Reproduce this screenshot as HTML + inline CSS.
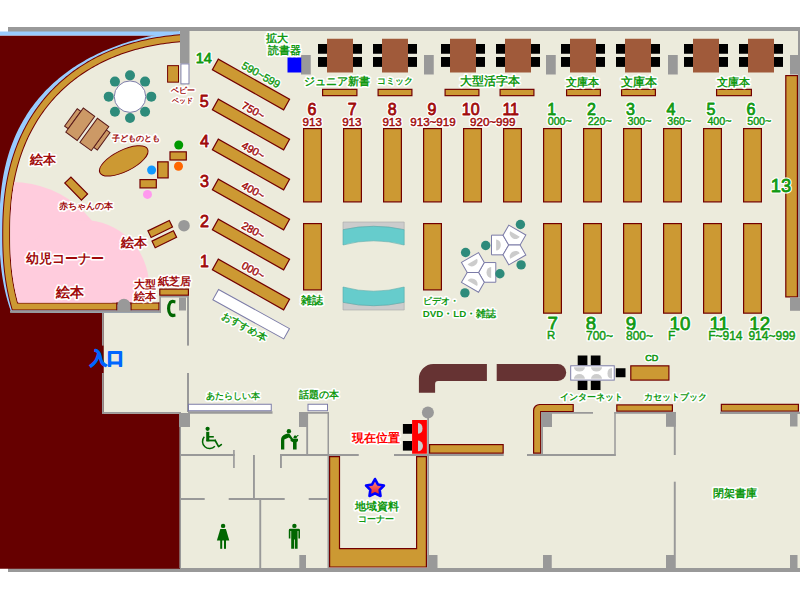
<!DOCTYPE html>
<html><head><meta charset="utf-8"><title>Floor map</title>
<style>html,body{margin:0;padding:0;background:#fff;width:800px;height:600px;overflow:hidden}svg{display:block}</style>
</head><body>
<svg width="800" height="600" viewBox="0 0 800 600" shape-rendering="geometricPrecision">
<rect x="0.00" y="0.00" width="800.00" height="600.00" fill="#FFFFFF"/>
<rect x="8.00" y="27.00" width="792.00" height="5.00" fill="#999999"/>
<rect x="8.00" y="568.00" width="792.00" height="4.00" fill="#999999"/>
<rect x="179.00" y="31.00" width="621.00" height="537.00" fill="#ECEBDC"/>
<rect x="0.00" y="35.50" width="180.00" height="533.25" fill="#660000"/>
<rect x="0.00" y="31.50" width="180.00" height="4.00" fill="#99CCFF"/>
<rect x="798.00" y="31.00" width="2.00" height="266.50" fill="#999999"/>
<rect x="103.75" y="296.00" width="85.25" height="117.75" fill="#ECEBDC"/>
<rect x="102.00" y="312.00" width="1.75" height="33.60" fill="#999999"/>
<rect x="102.00" y="373.00" width="1.75" height="40.75" fill="#999999"/>
<rect x="102.00" y="412.00" width="79.00" height="1.75" fill="#999999"/>
<rect x="187.00" y="296.00" width="2.00" height="49.60" fill="#999999"/>
<rect x="187.00" y="373.00" width="2.00" height="39.00" fill="#999999"/>
<rect x="159.50" y="295.80" width="29.50" height="1.70" fill="#999999"/>
<rect x="179.00" y="297.50" width="7.00" height="13.00" fill="#999999"/>
<rect x="179.00" y="413.00" width="11.00" height="14.00" fill="#999999"/>
<defs>
<clipPath id="kc"><path d="M0,31.5 L180,31.5 L180,296 L159.5,296 L159.5,313 L0,313 Z"/></clipPath>
<clipPath id="ki"><path d="M199.51,41.34 L196.11,41.43 L192.83,41.55 L189.65,41.69 L186.54,41.86 L183.50,42.06 L180.52,42.28 L177.59,42.53 L174.71,42.81 L171.87,43.11 L169.07,43.44 L166.31,43.79 L163.58,44.17 L160.88,44.57 L158.21,45.01 L155.57,45.46 L152.96,45.95 L150.38,46.45 L147.82,46.99 L145.29,47.55 L142.79,48.13 L140.30,48.75 L137.85,49.38 L135.41,50.05 L133.00,50.73 L130.62,51.45 L128.25,52.19 L125.91,52.95 L123.59,53.74 L121.29,54.55 L119.02,55.39 L116.76,56.26 L114.53,57.15 L112.32,58.06 L110.13,59.00 L107.97,59.96 L105.82,60.95 L103.70,61.97 L101.60,63.00 L99.52,64.07 L97.46,65.15 L95.42,66.26 L93.40,67.40 L91.41,68.55 L89.44,69.74 L87.49,70.94 L85.56,72.17 L83.66,73.42 L81.77,74.70 L79.91,76.00 L78.07,77.33 L76.25,78.67 L74.46,80.04 L72.69,81.44 L70.94,82.85 L69.21,84.29 L67.51,85.75 L65.83,87.24 L64.17,88.74 L62.53,90.27 L60.92,91.82 L59.33,93.40 L57.77,94.99 L56.23,96.61 L54.71,98.25 L53.22,99.91 L51.75,101.60 L50.30,103.30 L48.88,105.03 L47.48,106.78 L46.11,108.55 L44.76,110.34 L43.43,112.15 L42.13,113.98 L40.86,115.84 L39.61,117.71 L38.38,119.61 L37.18,121.53 L36.01,123.47 L34.85,125.43 L33.73,127.41 L32.63,129.41 L31.55,131.43 L30.51,133.47 L29.48,135.53 L28.48,137.62 L27.51,139.72 L26.57,141.85 L25.65,143.99 L24.75,146.16 L23.88,148.35 L23.04,150.56 L22.23,152.79 L21.44,155.04 L20.67,157.31 L19.94,159.61 L19.23,161.93 L18.54,164.27 L17.89,166.63 L17.26,169.01 L16.65,171.42 L16.08,173.86 L15.53,176.31 L15.00,178.80 L14.51,181.31 L14.04,183.85 L13.59,186.41 L13.18,189.01 L12.79,191.64 L12.43,194.30 L12.10,196.99 L11.79,199.73 L11.51,202.50 L11.26,205.33 L11.04,208.20 L10.84,211.13 L10.67,214.13 L10.52,217.20 L10.41,220.38 L10.32,223.68 L10.26,227.17 L10.23,230.98 L10.22,235.96 L10.24,240.07 L10.29,243.67 L10.37,247.05 L10.47,250.28 L10.60,253.39 L10.76,256.42 L10.94,259.38 L11.16,262.28 L11.40,265.12 L11.66,267.92 L11.96,270.67 L12.28,273.38 L12.63,276.06 L13.01,278.70 L13.41,281.31 L13.84,283.89 L14.30,286.44 L14.78,288.96 L15.29,291.46 L15.83,293.93 L16.39,296.37 L16.99,298.79 L17.60,301.19 L17.96,302.50 L260,302.5 L260,38 Z"/></clipPath>
<linearGradient id="sg" x1="0" y1="0" x2="0" y2="1"><stop offset="0" stop-color="#FF9A9A"/><stop offset="0.6" stop-color="#F04848"/><stop offset="1" stop-color="#D82020"/></linearGradient>
</defs>
<g clip-path="url(#kc)">
<path d="M197.43,29.37 L193.83,29.67 L190.29,30.00 L186.81,30.35 L183.39,30.72 L180.01,31.13 L176.68,31.55 L173.40,32.01 L170.16,32.49 L166.96,32.99 L163.80,33.52 L160.67,34.08 L157.59,34.66 L154.54,35.27 L151.52,35.90 L148.54,36.56 L145.59,37.24 L142.67,37.95 L139.79,38.68 L136.93,39.44 L134.11,40.23 L131.32,41.04 L128.56,41.87 L125.83,42.73 L123.12,43.62 L120.45,44.53 L117.81,45.46 L115.19,46.42 L112.61,47.40 L110.05,48.41 L107.52,49.45 L105.02,50.51 L102.55,51.59 L100.10,52.70 L97.69,53.83 L95.30,54.98 L92.94,56.17 L90.61,57.37 L88.30,58.60 L86.03,59.85 L83.78,61.13 L81.56,62.43 L79.37,63.75 L77.20,65.10 L75.07,66.48 L72.96,67.87 L70.88,69.29 L68.83,70.73 L66.81,72.20 L64.81,73.69 L62.85,75.20 L60.91,76.74 L59.00,78.30 L57.12,79.89 L55.27,81.49 L53.45,83.12 L51.65,84.77 L49.89,86.45 L48.15,88.15 L46.44,89.87 L44.77,91.62 L43.12,93.38 L41.50,95.17 L39.91,96.99 L38.35,98.82 L36.82,100.68 L35.32,102.56 L33.84,104.47 L32.40,106.40 L30.99,108.35 L29.61,110.32 L28.26,112.31 L26.93,114.33 L25.64,116.38 L24.38,118.44 L23.15,120.53 L21.95,122.64 L20.78,124.78 L19.64,126.93 L18.53,129.12 L17.45,131.32 L16.40,133.55 L15.38,135.81 L14.40,138.09 L13.44,140.39 L12.52,142.72 L11.63,145.08 L10.76,147.46 L9.93,149.87 L9.13,152.30 L8.36,154.76 L7.63,157.26 L6.92,159.78 L6.25,162.33 L5.60,164.91 L4.99,167.52 L4.41,170.17 L3.86,172.85 L3.35,175.57 L2.86,178.33 L2.41,181.13 L1.99,183.98 L1.60,186.87 L1.24,189.81 L0.92,192.81 L0.62,195.87 L0.36,199.01 L0.13,202.22 L-0.07,205.53 L-0.24,208.94 L-0.37,212.50 L-0.47,216.25 L-0.55,220.27 L-0.58,224.79 L-0.59,231.20 L-0.57,236.17 L-0.51,240.36 L-0.42,244.22 L-0.30,247.85 L-0.15,251.33 L0.04,254.68 L0.25,257.93 L0.50,261.10 L0.78,264.19 L1.09,267.22 L1.44,270.19 L1.81,273.10 L2.22,275.96 L2.66,278.78 L3.13,281.56 L3.63,284.30 L4.17,287.00 L4.73,289.66 L5.33,292.29 L5.96,294.88 L6.62,297.45 L7.31,299.98 L8.04,302.49 L8.79,304.96 L9.58,307.41 L10.39,309.83 L11.24,312.22 L11.34,312.50 L180,314 L180,31 Z" fill="#99CCFF"/>
<path d="M199.51,41.34 L196.11,41.43 L192.83,41.55 L189.65,41.69 L186.54,41.86 L183.50,42.06 L180.52,42.28 L177.59,42.53 L174.71,42.81 L171.87,43.11 L169.07,43.44 L166.31,43.79 L163.58,44.17 L160.88,44.57 L158.21,45.01 L155.57,45.46 L152.96,45.95 L150.38,46.45 L147.82,46.99 L145.29,47.55 L142.79,48.13 L140.30,48.75 L137.85,49.38 L135.41,50.05 L133.00,50.73 L130.62,51.45 L128.25,52.19 L125.91,52.95 L123.59,53.74 L121.29,54.55 L119.02,55.39 L116.76,56.26 L114.53,57.15 L112.32,58.06 L110.13,59.00 L107.97,59.96 L105.82,60.95 L103.70,61.97 L101.60,63.00 L99.52,64.07 L97.46,65.15 L95.42,66.26 L93.40,67.40 L91.41,68.55 L89.44,69.74 L87.49,70.94 L85.56,72.17 L83.66,73.42 L81.77,74.70 L79.91,76.00 L78.07,77.33 L76.25,78.67 L74.46,80.04 L72.69,81.44 L70.94,82.85 L69.21,84.29 L67.51,85.75 L65.83,87.24 L64.17,88.74 L62.53,90.27 L60.92,91.82 L59.33,93.40 L57.77,94.99 L56.23,96.61 L54.71,98.25 L53.22,99.91 L51.75,101.60 L50.30,103.30 L48.88,105.03 L47.48,106.78 L46.11,108.55 L44.76,110.34 L43.43,112.15 L42.13,113.98 L40.86,115.84 L39.61,117.71 L38.38,119.61 L37.18,121.53 L36.01,123.47 L34.85,125.43 L33.73,127.41 L32.63,129.41 L31.55,131.43 L30.51,133.47 L29.48,135.53 L28.48,137.62 L27.51,139.72 L26.57,141.85 L25.65,143.99 L24.75,146.16 L23.88,148.35 L23.04,150.56 L22.23,152.79 L21.44,155.04 L20.67,157.31 L19.94,159.61 L19.23,161.93 L18.54,164.27 L17.89,166.63 L17.26,169.01 L16.65,171.42 L16.08,173.86 L15.53,176.31 L15.00,178.80 L14.51,181.31 L14.04,183.85 L13.59,186.41 L13.18,189.01 L12.79,191.64 L12.43,194.30 L12.10,196.99 L11.79,199.73 L11.51,202.50 L11.26,205.33 L11.04,208.20 L10.84,211.13 L10.67,214.13 L10.52,217.20 L10.41,220.38 L10.32,223.68 L10.26,227.17 L10.23,230.98 L10.22,235.96 L10.24,240.07 L10.29,243.67 L10.37,247.05 L10.47,250.28 L10.60,253.39 L10.76,256.42 L10.94,259.38 L11.16,262.28 L11.40,265.12 L11.66,267.92 L11.96,270.67 L12.28,273.38 L12.63,276.06 L13.01,278.70 L13.41,281.31 L13.84,283.89 L14.30,286.44 L14.78,288.96 L15.29,291.46 L15.83,293.93 L16.39,296.37 L16.99,298.79 L17.60,301.19 L17.96,302.50 L175,302.5" fill="none" stroke="#720000" stroke-width="16" stroke-linejoin="miter"/>
<path d="M199.51,41.34 L196.11,41.43 L192.83,41.55 L189.65,41.69 L186.54,41.86 L183.50,42.06 L180.52,42.28 L177.59,42.53 L174.71,42.81 L171.87,43.11 L169.07,43.44 L166.31,43.79 L163.58,44.17 L160.88,44.57 L158.21,45.01 L155.57,45.46 L152.96,45.95 L150.38,46.45 L147.82,46.99 L145.29,47.55 L142.79,48.13 L140.30,48.75 L137.85,49.38 L135.41,50.05 L133.00,50.73 L130.62,51.45 L128.25,52.19 L125.91,52.95 L123.59,53.74 L121.29,54.55 L119.02,55.39 L116.76,56.26 L114.53,57.15 L112.32,58.06 L110.13,59.00 L107.97,59.96 L105.82,60.95 L103.70,61.97 L101.60,63.00 L99.52,64.07 L97.46,65.15 L95.42,66.26 L93.40,67.40 L91.41,68.55 L89.44,69.74 L87.49,70.94 L85.56,72.17 L83.66,73.42 L81.77,74.70 L79.91,76.00 L78.07,77.33 L76.25,78.67 L74.46,80.04 L72.69,81.44 L70.94,82.85 L69.21,84.29 L67.51,85.75 L65.83,87.24 L64.17,88.74 L62.53,90.27 L60.92,91.82 L59.33,93.40 L57.77,94.99 L56.23,96.61 L54.71,98.25 L53.22,99.91 L51.75,101.60 L50.30,103.30 L48.88,105.03 L47.48,106.78 L46.11,108.55 L44.76,110.34 L43.43,112.15 L42.13,113.98 L40.86,115.84 L39.61,117.71 L38.38,119.61 L37.18,121.53 L36.01,123.47 L34.85,125.43 L33.73,127.41 L32.63,129.41 L31.55,131.43 L30.51,133.47 L29.48,135.53 L28.48,137.62 L27.51,139.72 L26.57,141.85 L25.65,143.99 L24.75,146.16 L23.88,148.35 L23.04,150.56 L22.23,152.79 L21.44,155.04 L20.67,157.31 L19.94,159.61 L19.23,161.93 L18.54,164.27 L17.89,166.63 L17.26,169.01 L16.65,171.42 L16.08,173.86 L15.53,176.31 L15.00,178.80 L14.51,181.31 L14.04,183.85 L13.59,186.41 L13.18,189.01 L12.79,191.64 L12.43,194.30 L12.10,196.99 L11.79,199.73 L11.51,202.50 L11.26,205.33 L11.04,208.20 L10.84,211.13 L10.67,214.13 L10.52,217.20 L10.41,220.38 L10.32,223.68 L10.26,227.17 L10.23,230.98 L10.22,235.96 L10.24,240.07 L10.29,243.67 L10.37,247.05 L10.47,250.28 L10.60,253.39 L10.76,256.42 L10.94,259.38 L11.16,262.28 L11.40,265.12 L11.66,267.92 L11.96,270.67 L12.28,273.38 L12.63,276.06 L13.01,278.70 L13.41,281.31 L13.84,283.89 L14.30,286.44 L14.78,288.96 L15.29,291.46 L15.83,293.93 L16.39,296.37 L16.99,298.79 L17.60,301.19 L17.96,302.50 L175,302.5" fill="none" stroke="#CC9933" stroke-width="14" stroke-linejoin="miter"/>
<path d="M199.51,41.34 L196.11,41.43 L192.83,41.55 L189.65,41.69 L186.54,41.86 L183.50,42.06 L180.52,42.28 L177.59,42.53 L174.71,42.81 L171.87,43.11 L169.07,43.44 L166.31,43.79 L163.58,44.17 L160.88,44.57 L158.21,45.01 L155.57,45.46 L152.96,45.95 L150.38,46.45 L147.82,46.99 L145.29,47.55 L142.79,48.13 L140.30,48.75 L137.85,49.38 L135.41,50.05 L133.00,50.73 L130.62,51.45 L128.25,52.19 L125.91,52.95 L123.59,53.74 L121.29,54.55 L119.02,55.39 L116.76,56.26 L114.53,57.15 L112.32,58.06 L110.13,59.00 L107.97,59.96 L105.82,60.95 L103.70,61.97 L101.60,63.00 L99.52,64.07 L97.46,65.15 L95.42,66.26 L93.40,67.40 L91.41,68.55 L89.44,69.74 L87.49,70.94 L85.56,72.17 L83.66,73.42 L81.77,74.70 L79.91,76.00 L78.07,77.33 L76.25,78.67 L74.46,80.04 L72.69,81.44 L70.94,82.85 L69.21,84.29 L67.51,85.75 L65.83,87.24 L64.17,88.74 L62.53,90.27 L60.92,91.82 L59.33,93.40 L57.77,94.99 L56.23,96.61 L54.71,98.25 L53.22,99.91 L51.75,101.60 L50.30,103.30 L48.88,105.03 L47.48,106.78 L46.11,108.55 L44.76,110.34 L43.43,112.15 L42.13,113.98 L40.86,115.84 L39.61,117.71 L38.38,119.61 L37.18,121.53 L36.01,123.47 L34.85,125.43 L33.73,127.41 L32.63,129.41 L31.55,131.43 L30.51,133.47 L29.48,135.53 L28.48,137.62 L27.51,139.72 L26.57,141.85 L25.65,143.99 L24.75,146.16 L23.88,148.35 L23.04,150.56 L22.23,152.79 L21.44,155.04 L20.67,157.31 L19.94,159.61 L19.23,161.93 L18.54,164.27 L17.89,166.63 L17.26,169.01 L16.65,171.42 L16.08,173.86 L15.53,176.31 L15.00,178.80 L14.51,181.31 L14.04,183.85 L13.59,186.41 L13.18,189.01 L12.79,191.64 L12.43,194.30 L12.10,196.99 L11.79,199.73 L11.51,202.50 L11.26,205.33 L11.04,208.20 L10.84,211.13 L10.67,214.13 L10.52,217.20 L10.41,220.38 L10.32,223.68 L10.26,227.17 L10.23,230.98 L10.22,235.96 L10.24,240.07 L10.29,243.67 L10.37,247.05 L10.47,250.28 L10.60,253.39 L10.76,256.42 L10.94,259.38 L11.16,262.28 L11.40,265.12 L11.66,267.92 L11.96,270.67 L12.28,273.38 L12.63,276.06 L13.01,278.70 L13.41,281.31 L13.84,283.89 L14.30,286.44 L14.78,288.96 L15.29,291.46 L15.83,293.93 L16.39,296.37 L16.99,298.79 L17.60,301.19 L17.96,302.50 L175,302.5" fill="none" stroke="#720000" stroke-width="2" stroke-linejoin="miter"/>
<path d="M199.51,41.34 L196.11,41.43 L192.83,41.55 L189.65,41.69 L186.54,41.86 L183.50,42.06 L180.52,42.28 L177.59,42.53 L174.71,42.81 L171.87,43.11 L169.07,43.44 L166.31,43.79 L163.58,44.17 L160.88,44.57 L158.21,45.01 L155.57,45.46 L152.96,45.95 L150.38,46.45 L147.82,46.99 L145.29,47.55 L142.79,48.13 L140.30,48.75 L137.85,49.38 L135.41,50.05 L133.00,50.73 L130.62,51.45 L128.25,52.19 L125.91,52.95 L123.59,53.74 L121.29,54.55 L119.02,55.39 L116.76,56.26 L114.53,57.15 L112.32,58.06 L110.13,59.00 L107.97,59.96 L105.82,60.95 L103.70,61.97 L101.60,63.00 L99.52,64.07 L97.46,65.15 L95.42,66.26 L93.40,67.40 L91.41,68.55 L89.44,69.74 L87.49,70.94 L85.56,72.17 L83.66,73.42 L81.77,74.70 L79.91,76.00 L78.07,77.33 L76.25,78.67 L74.46,80.04 L72.69,81.44 L70.94,82.85 L69.21,84.29 L67.51,85.75 L65.83,87.24 L64.17,88.74 L62.53,90.27 L60.92,91.82 L59.33,93.40 L57.77,94.99 L56.23,96.61 L54.71,98.25 L53.22,99.91 L51.75,101.60 L50.30,103.30 L48.88,105.03 L47.48,106.78 L46.11,108.55 L44.76,110.34 L43.43,112.15 L42.13,113.98 L40.86,115.84 L39.61,117.71 L38.38,119.61 L37.18,121.53 L36.01,123.47 L34.85,125.43 L33.73,127.41 L32.63,129.41 L31.55,131.43 L30.51,133.47 L29.48,135.53 L28.48,137.62 L27.51,139.72 L26.57,141.85 L25.65,143.99 L24.75,146.16 L23.88,148.35 L23.04,150.56 L22.23,152.79 L21.44,155.04 L20.67,157.31 L19.94,159.61 L19.23,161.93 L18.54,164.27 L17.89,166.63 L17.26,169.01 L16.65,171.42 L16.08,173.86 L15.53,176.31 L15.00,178.80 L14.51,181.31 L14.04,183.85 L13.59,186.41 L13.18,189.01 L12.79,191.64 L12.43,194.30 L12.10,196.99 L11.79,199.73 L11.51,202.50 L11.26,205.33 L11.04,208.20 L10.84,211.13 L10.67,214.13 L10.52,217.20 L10.41,220.38 L10.32,223.68 L10.26,227.17 L10.23,230.98 L10.22,235.96 L10.24,240.07 L10.29,243.67 L10.37,247.05 L10.47,250.28 L10.60,253.39 L10.76,256.42 L10.94,259.38 L11.16,262.28 L11.40,265.12 L11.66,267.92 L11.96,270.67 L12.28,273.38 L12.63,276.06 L13.01,278.70 L13.41,281.31 L13.84,283.89 L14.30,286.44 L14.78,288.96 L15.29,291.46 L15.83,293.93 L16.39,296.37 L16.99,298.79 L17.60,301.19 L17.96,302.50 L260,302.5 L260,38 Z" fill="#ECEBDC"/>
<g clip-path="url(#ki)">
<circle cx="12" cy="284" r="102" fill="#FFCCDD"/>
<circle cx="83" cy="286" r="66" fill="#FFCCDD"/>
</g>
</g>
<rect x="116.20" y="302.50" width="15.40" height="8.00" fill="#720000"/>
<rect x="158.40" y="302.50" width="1.20" height="8.00" fill="#720000"/>
<rect x="10.00" y="310.50" width="151.00" height="2.30" fill="#999999"/>
<rect x="159.50" y="296.00" width="1.50" height="16.80" fill="#999999"/>
<path d="M117.25,311 L117.25,305.4 A6.675,6.675 0 0 1 130.6,305.4 L130.6,311 Z" fill="#999999"/>
<rect x="159.80" y="289.10" width="28.60" height="6.10" fill="#CC9933" stroke="#720000" stroke-width="1.2"/>
<rect x="180.00" y="27.00" width="9.50" height="36.40" fill="#999999"/>
<rect x="167.60" y="65.65" width="10.90" height="16.50" fill="#CC9933" stroke="#720000" stroke-width="1"/>
<rect x="180.90" y="63.90" width="8.10" height="20.00" fill="#FFFFFF" stroke="#7C7CA8" stroke-width="1"/>
<circle cx="151.30" cy="96.65" r="5.00" fill="#2E8B7B"/>
<circle cx="145.06" cy="111.71" r="5.00" fill="#2E8B7B"/>
<circle cx="130.00" cy="117.95" r="5.00" fill="#2E8B7B"/>
<circle cx="114.94" cy="111.71" r="5.00" fill="#2E8B7B"/>
<circle cx="108.70" cy="96.65" r="5.00" fill="#2E8B7B"/>
<circle cx="114.94" cy="81.59" r="5.00" fill="#2E8B7B"/>
<circle cx="130.00" cy="75.35" r="5.00" fill="#2E8B7B"/>
<circle cx="145.06" cy="81.59" r="5.00" fill="#2E8B7B"/>
<circle cx="130.00" cy="96.65" r="15.75" fill="#FFFFFF" stroke="#7C7CA8" stroke-width="1"/>
<g transform="translate(87.3,129.35) rotate(36)">
<rect x="-20.25" y="-10.75" width="4.5" height="21.5" fill="#CC9966" stroke="#5A1A1A" stroke-width="1"/>
<rect x="-15.75" y="-14.9" width="14.1" height="29.8" fill="#CC9966" stroke="#5A1A1A" stroke-width="1"/>
<rect x="15.75" y="-10.75" width="4.5" height="21.5" fill="#CC9966" stroke="#5A1A1A" stroke-width="1"/>
<rect x="1.65" y="-14.9" width="14.1" height="29.8" fill="#CC9966" stroke="#5A1A1A" stroke-width="1"/>
</g>
<ellipse cx="123.75" cy="160.9" rx="26.6" ry="10.6" fill="#CC9933" stroke="#720000" stroke-width="1" transform="rotate(-26.3 123.75 160.9)"/>
<rect x="170.00" y="151.85" width="16.30" height="8.15" fill="#CC9933" stroke="#720000" stroke-width="1.2"/>
<rect x="157.70" y="161.85" width="10.45" height="16.05" fill="#CC9933" stroke="#720000" stroke-width="1.2"/>
<rect x="140.00" y="179.60" width="16.30" height="8.30" fill="#CC9933" stroke="#720000" stroke-width="1.2"/>
<circle cx="178.75" cy="145.00" r="4.50" fill="#009900"/>
<circle cx="178.50" cy="166.25" r="4.50" fill="#FF6600"/>
<circle cx="151.60" cy="170.00" r="4.50" fill="#1199FF"/>
<circle cx="147.50" cy="194.40" r="4.50" fill="#FF99EE"/>
<rect x="-11.90" y="-4.30" width="23.80" height="8.60" fill="#CC9933" stroke="#720000" stroke-width="1.2" transform="translate(76.20,188.60) rotate(45.60)"/>
<rect x="-11.90" y="-3.65" width="23.80" height="7.30" fill="#CC9933" stroke="#720000" stroke-width="1.2" transform="translate(160.20,228.95) rotate(-26.00)"/>
<rect x="-11.90" y="-3.65" width="23.80" height="7.30" fill="#CC9933" stroke="#720000" stroke-width="1.2" transform="translate(164.30,239.20) rotate(-26.00)"/>
<circle cx="184.00" cy="225.70" r="5.80" fill="#999999"/>
<rect x="301.00" y="55.00" width="9.75" height="19.50" fill="#999999"/>
<rect x="424.00" y="55.00" width="9.75" height="19.50" fill="#999999"/>
<rect x="546.00" y="55.00" width="9.75" height="19.50" fill="#999999"/>
<rect x="668.00" y="55.00" width="9.75" height="19.50" fill="#999999"/>
<rect x="790.00" y="55.00" width="9.75" height="19.50" fill="#999999"/>
<rect x="287.50" y="57.50" width="13.75" height="15.00" fill="#0000FF"/>
<rect x="327.00" y="38.75" width="26.00" height="33.75" fill="#A05A3A"/>
<rect x="318.00" y="44.00" width="9.00" height="9.75" fill="#000000"/>
<rect x="318.00" y="57.00" width="9.00" height="9.90" fill="#000000"/>
<rect x="353.00" y="44.00" width="9.00" height="9.75" fill="#000000"/>
<rect x="353.00" y="57.00" width="9.00" height="9.90" fill="#000000"/>
<rect x="382.00" y="38.75" width="26.00" height="33.75" fill="#A05A3A"/>
<rect x="373.00" y="44.00" width="9.00" height="9.75" fill="#000000"/>
<rect x="373.00" y="57.00" width="9.00" height="9.90" fill="#000000"/>
<rect x="408.00" y="44.00" width="9.00" height="9.75" fill="#000000"/>
<rect x="408.00" y="57.00" width="9.00" height="9.90" fill="#000000"/>
<rect x="450.00" y="38.75" width="26.00" height="33.75" fill="#A05A3A"/>
<rect x="441.00" y="44.00" width="9.00" height="9.75" fill="#000000"/>
<rect x="441.00" y="57.00" width="9.00" height="9.90" fill="#000000"/>
<rect x="476.00" y="44.00" width="9.00" height="9.75" fill="#000000"/>
<rect x="476.00" y="57.00" width="9.00" height="9.90" fill="#000000"/>
<rect x="505.00" y="38.75" width="26.00" height="33.75" fill="#A05A3A"/>
<rect x="496.00" y="44.00" width="9.00" height="9.75" fill="#000000"/>
<rect x="496.00" y="57.00" width="9.00" height="9.90" fill="#000000"/>
<rect x="531.00" y="44.00" width="9.00" height="9.75" fill="#000000"/>
<rect x="531.00" y="57.00" width="9.00" height="9.90" fill="#000000"/>
<rect x="570.00" y="38.75" width="26.00" height="33.75" fill="#A05A3A"/>
<rect x="561.00" y="44.00" width="9.00" height="9.75" fill="#000000"/>
<rect x="561.00" y="57.00" width="9.00" height="9.90" fill="#000000"/>
<rect x="596.00" y="44.00" width="9.00" height="9.75" fill="#000000"/>
<rect x="596.00" y="57.00" width="9.00" height="9.90" fill="#000000"/>
<rect x="625.00" y="38.75" width="26.00" height="33.75" fill="#A05A3A"/>
<rect x="616.00" y="44.00" width="9.00" height="9.75" fill="#000000"/>
<rect x="616.00" y="57.00" width="9.00" height="9.90" fill="#000000"/>
<rect x="651.00" y="44.00" width="9.00" height="9.75" fill="#000000"/>
<rect x="651.00" y="57.00" width="9.00" height="9.90" fill="#000000"/>
<rect x="693.00" y="38.75" width="26.00" height="33.75" fill="#A05A3A"/>
<rect x="684.00" y="44.00" width="9.00" height="9.75" fill="#000000"/>
<rect x="684.00" y="57.00" width="9.00" height="9.90" fill="#000000"/>
<rect x="719.00" y="44.00" width="9.00" height="9.75" fill="#000000"/>
<rect x="719.00" y="57.00" width="9.00" height="9.90" fill="#000000"/>
<rect x="748.00" y="38.75" width="26.00" height="33.75" fill="#A05A3A"/>
<rect x="739.00" y="44.00" width="9.00" height="9.75" fill="#000000"/>
<rect x="739.00" y="57.00" width="9.00" height="9.90" fill="#000000"/>
<rect x="774.00" y="44.00" width="9.00" height="9.75" fill="#000000"/>
<rect x="774.00" y="57.00" width="9.00" height="9.90" fill="#000000"/>
<rect x="322.60" y="89.35" width="34.30" height="6.30" fill="#CC9933" stroke="#720000" stroke-width="1.2"/>
<rect x="378.10" y="89.35" width="33.80" height="6.30" fill="#CC9933" stroke="#720000" stroke-width="1.2"/>
<rect x="445.10" y="89.35" width="33.80" height="6.30" fill="#CC9933" stroke="#720000" stroke-width="1.2"/>
<rect x="500.10" y="89.35" width="33.80" height="6.30" fill="#CC9933" stroke="#720000" stroke-width="1.2"/>
<rect x="566.60" y="89.35" width="33.80" height="6.30" fill="#CC9933" stroke="#720000" stroke-width="1.2"/>
<rect x="621.60" y="89.35" width="33.80" height="6.30" fill="#CC9933" stroke="#720000" stroke-width="1.2"/>
<rect x="716.60" y="89.35" width="34.80" height="6.30" fill="#CC9933" stroke="#720000" stroke-width="1.2"/>
<rect x="303.60" y="128.60" width="17.80" height="73.30" fill="#CC9933" stroke="#720000" stroke-width="1.2"/>
<rect x="343.60" y="128.60" width="17.80" height="73.30" fill="#CC9933" stroke="#720000" stroke-width="1.2"/>
<rect x="383.60" y="128.60" width="17.80" height="73.30" fill="#CC9933" stroke="#720000" stroke-width="1.2"/>
<rect x="423.60" y="128.60" width="17.80" height="73.30" fill="#CC9933" stroke="#720000" stroke-width="1.2"/>
<rect x="463.60" y="128.60" width="17.80" height="73.30" fill="#CC9933" stroke="#720000" stroke-width="1.2"/>
<rect x="503.60" y="128.60" width="17.80" height="73.30" fill="#CC9933" stroke="#720000" stroke-width="1.2"/>
<rect x="543.60" y="128.60" width="17.80" height="73.30" fill="#CC9933" stroke="#720000" stroke-width="1.2"/>
<rect x="583.60" y="128.60" width="17.80" height="73.30" fill="#CC9933" stroke="#720000" stroke-width="1.2"/>
<rect x="623.60" y="128.60" width="17.80" height="73.30" fill="#CC9933" stroke="#720000" stroke-width="1.2"/>
<rect x="663.60" y="128.60" width="17.80" height="73.30" fill="#CC9933" stroke="#720000" stroke-width="1.2"/>
<rect x="703.60" y="128.60" width="17.80" height="73.30" fill="#CC9933" stroke="#720000" stroke-width="1.2"/>
<rect x="743.60" y="128.60" width="17.80" height="73.30" fill="#CC9933" stroke="#720000" stroke-width="1.2"/>
<rect x="303.60" y="223.60" width="17.80" height="66.30" fill="#CC9933" stroke="#720000" stroke-width="1.2"/>
<rect x="423.60" y="223.60" width="17.80" height="66.30" fill="#CC9933" stroke="#720000" stroke-width="1.2"/>
<rect x="543.60" y="223.60" width="17.80" height="89.55" fill="#CC9933" stroke="#720000" stroke-width="1.2"/>
<rect x="583.60" y="223.60" width="17.80" height="89.55" fill="#CC9933" stroke="#720000" stroke-width="1.2"/>
<rect x="623.60" y="223.60" width="17.80" height="89.55" fill="#CC9933" stroke="#720000" stroke-width="1.2"/>
<rect x="663.60" y="223.60" width="17.80" height="89.55" fill="#CC9933" stroke="#720000" stroke-width="1.2"/>
<rect x="703.60" y="223.60" width="17.80" height="89.55" fill="#CC9933" stroke="#720000" stroke-width="1.2"/>
<rect x="743.60" y="223.60" width="17.80" height="89.55" fill="#CC9933" stroke="#720000" stroke-width="1.2"/>
<rect x="785.80" y="75.60" width="11.60" height="221.30" fill="#CC9933" stroke="#720000" stroke-width="1.2"/>
<rect x="790.00" y="297.50" width="10.00" height="13.30" fill="#999999"/>
<g>
<path d="M343,222 H404.2 V229.7 Q373.6,222.9 343,229.7 Z" fill="#CCCCCC" stroke="#AAAAAA" stroke-width="0.6"/>
<path d="M343,229.7 Q373.6,222.9 404.2,229.7 L404.2,245 Q373.6,236.6 343,245 Z" fill="#66CCCC" stroke="#55AAAA" stroke-width="0.6"/>
</g>
<g transform="translate(0,532) scale(1,-1)">
<path d="M343,222 H404.2 V229.7 Q373.6,222.9 343,229.7 Z" fill="#CCCCCC" stroke="#AAAAAA" stroke-width="0.6"/>
<path d="M343,229.7 Q373.6,222.9 404.2,229.7 L404.2,245 Q373.6,236.6 343,245 Z" fill="#66CCCC" stroke="#55AAAA" stroke-width="0.6"/>
</g>
<g transform="translate(508.70,245.00) rotate(0.00)">
<path d="M0,0 L-5.7,-9.85 L-17.2,-9.85 L-17.2,9.85 L-5.7,9.85 Z" fill="#FFFFFF" stroke="#7C7CA8" stroke-width="1"/>
<path d="M-12.6,-5.5 A4.7,5.5 0 0 1 -12.6,5.5 Z" fill="#CCCCCC"/>
</g>
<g transform="translate(508.70,245.00) rotate(120.00)">
<path d="M0,0 L-5.7,-9.85 L-17.2,-9.85 L-17.2,9.85 L-5.7,9.85 Z" fill="#FFFFFF" stroke="#7C7CA8" stroke-width="1"/>
<path d="M-12.6,-5.5 A4.7,5.5 0 0 1 -12.6,5.5 Z" fill="#CCCCCC"/>
</g>
<g transform="translate(508.70,245.00) rotate(240.00)">
<path d="M0,0 L-5.7,-9.85 L-17.2,-9.85 L-17.2,9.85 L-5.7,9.85 Z" fill="#FFFFFF" stroke="#7C7CA8" stroke-width="1"/>
<path d="M-12.6,-5.5 A4.7,5.5 0 0 1 -12.6,5.5 Z" fill="#CCCCCC"/>
</g>
<g transform="translate(478.60,272.40) rotate(180.00)">
<path d="M0,0 L-5.7,-9.85 L-17.2,-9.85 L-17.2,9.85 L-5.7,9.85 Z" fill="#FFFFFF" stroke="#7C7CA8" stroke-width="1"/>
<path d="M-12.6,-5.5 A4.7,5.5 0 0 1 -12.6,5.5 Z" fill="#CCCCCC"/>
</g>
<g transform="translate(478.60,272.40) rotate(300.00)">
<path d="M0,0 L-5.7,-9.85 L-17.2,-9.85 L-17.2,9.85 L-5.7,9.85 Z" fill="#FFFFFF" stroke="#7C7CA8" stroke-width="1"/>
<path d="M-12.6,-5.5 A4.7,5.5 0 0 1 -12.6,5.5 Z" fill="#CCCCCC"/>
</g>
<g transform="translate(478.60,272.40) rotate(420.00)">
<path d="M0,0 L-5.7,-9.85 L-17.2,-9.85 L-17.2,9.85 L-5.7,9.85 Z" fill="#FFFFFF" stroke="#7C7CA8" stroke-width="1"/>
<path d="M-12.6,-5.5 A4.7,5.5 0 0 1 -12.6,5.5 Z" fill="#CCCCCC"/>
</g>
<circle cx="520.40" cy="224.50" r="4.70" fill="#2E8B7B"/>
<circle cx="485.70" cy="245.50" r="4.70" fill="#2E8B7B"/>
<circle cx="521.10" cy="264.90" r="4.70" fill="#2E8B7B"/>
<circle cx="465.60" cy="252.50" r="4.70" fill="#2E8B7B"/>
<circle cx="499.90" cy="273.80" r="4.70" fill="#2E8B7B"/>
<circle cx="464.90" cy="292.90" r="4.70" fill="#2E8B7B"/>
<rect x="-40.90" y="-6.05" width="81.80" height="12.10" fill="#CC9933" stroke="#720000" stroke-width="1.2" transform="translate(250.96,84.49) rotate(29.40)"/>
<rect x="-40.90" y="-6.05" width="81.80" height="12.10" fill="#CC9933" stroke="#720000" stroke-width="1.2" transform="translate(250.96,124.49) rotate(29.40)"/>
<rect x="-40.90" y="-6.05" width="81.80" height="12.10" fill="#CC9933" stroke="#720000" stroke-width="1.2" transform="translate(250.96,164.49) rotate(29.40)"/>
<rect x="-40.90" y="-6.05" width="81.80" height="12.10" fill="#CC9933" stroke="#720000" stroke-width="1.2" transform="translate(250.96,204.49) rotate(29.40)"/>
<rect x="-40.90" y="-6.05" width="81.80" height="12.10" fill="#CC9933" stroke="#720000" stroke-width="1.2" transform="translate(250.96,244.49) rotate(29.40)"/>
<rect x="-40.90" y="-6.05" width="81.80" height="12.10" fill="#CC9933" stroke="#720000" stroke-width="1.2" transform="translate(250.96,284.49) rotate(29.40)"/>
<rect x="-40.50" y="-5.90" width="81.00" height="11.80" fill="#FFFFFF" stroke="#7C7CA8" stroke-width="1" transform="translate(251.15,314.20) rotate(28.90)"/>
<path d="M418.9,392.8 V378.4 A14.5,14.5 0 0 1 433.4,363.9 H486.9 V380.9 H438.1 A3,3 0 0 0 435.1,383.9 V392.8 Z" fill="#663333"/>
<path d="M496.7,363.9 H557.7 A8.5,8.5 0 0 1 557.7,380.9 H496.7 Z" fill="#663333"/>
<rect x="577.70" y="355.50" width="9.70" height="9.80" fill="#000000"/>
<rect x="577.70" y="380.60" width="9.70" height="9.40" fill="#000000"/>
<rect x="590.80" y="355.50" width="9.70" height="9.80" fill="#000000"/>
<rect x="590.80" y="380.60" width="9.70" height="9.40" fill="#000000"/>
<rect x="615.80" y="368.25" width="9.70" height="9.00" fill="#000000"/>
<rect x="570.70" y="365.80" width="43.55" height="14.30" fill="#FFFFFF" stroke="#7C7CA8" stroke-width="1"/>
<path d="M573.90,367.2 A5.5,4.4 0 0 0 584.90,367.2 Z" fill="#CCCCCC"/>
<path d="M573.90,378.75 A5.5,4.75 0 0 1 584.90,378.75 Z" fill="#CCCCCC"/>
<path d="M591.00,367.2 A5.5,4.4 0 0 0 602.00,367.2 Z" fill="#CCCCCC"/>
<path d="M591.00,378.75 A5.5,4.75 0 0 1 602.00,378.75 Z" fill="#CCCCCC"/>
<path d="M612,368 A5,5.4 0 0 0 612,378.75 Z" fill="#CCCCCC"/>
<rect x="630.80" y="365.85" width="38.10" height="14.25" fill="#CC9933" stroke="#720000" stroke-width="1.2"/>
<path d="M533.6,453.2 V410.5 A6,6 0 0 1 539.6,404.5 H573.2 V411.5 H540.7 V453.2 Z" fill="#CC9933" stroke="#720000" stroke-width="1.2"/>
<rect x="616.80" y="404.90" width="55.60" height="6.25" fill="#CC9933" stroke="#720000" stroke-width="1.2"/>
<rect x="721.35" y="404.35" width="77.05" height="6.80" fill="#CC9933" stroke="#720000" stroke-width="1.2"/>
<rect x="541.25" y="412.00" width="1.75" height="44.00" fill="#999999"/>
<rect x="541.25" y="412.00" width="51.75" height="1.75" fill="#999999"/>
<rect x="614.25" y="412.00" width="61.50" height="1.75" fill="#999999"/>
<rect x="541.25" y="412.00" width="10.75" height="15.00" fill="#999999"/>
<rect x="614.25" y="412.00" width="1.50" height="43.75" fill="#999999"/>
<rect x="527.00" y="454.00" width="88.75" height="2.00" fill="#999999"/>
<rect x="673.80" y="412.00" width="1.95" height="43.00" fill="#999999"/>
<rect x="673.80" y="481.70" width="1.95" height="86.30" fill="#999999"/>
<rect x="666.00" y="412.00" width="9.75" height="14.80" fill="#999999"/>
<rect x="720.00" y="411.75" width="80.00" height="2.25" fill="#999999"/>
<rect x="790.00" y="412.00" width="7.50" height="14.50" fill="#999999"/>
<rect x="299.30" y="555.00" width="6.70" height="13.00" fill="#999999"/>
<rect x="427.50" y="555.00" width="10.00" height="13.00" fill="#999999"/>
<rect x="543.00" y="555.00" width="8.75" height="13.00" fill="#999999"/>
<rect x="666.00" y="555.00" width="9.00" height="13.00" fill="#999999"/>
<rect x="790.00" y="555.00" width="7.50" height="13.00" fill="#999999"/>
<rect x="188.00" y="411.25" width="84.50" height="2.50" fill="#999999"/>
<rect x="188.50" y="404.25" width="82.75" height="6.50" fill="#FFFFFF" stroke="#7C7CA8" stroke-width="1"/>
<rect x="299.00" y="412.00" width="30.00" height="1.75" fill="#999999"/>
<rect x="308.00" y="404.25" width="19.50" height="6.50" fill="#FFFFFF" stroke="#7C7CA8" stroke-width="1"/>
<rect x="299.00" y="412.00" width="8.50" height="15.00" fill="#999999"/>
<rect x="179.40" y="413.00" width="1.60" height="155.00" fill="#999999"/>
<rect x="180.00" y="454.00" width="54.75" height="2.00" fill="#999999"/>
<rect x="233.10" y="450.00" width="1.65" height="18.00" fill="#999999"/>
<rect x="253.00" y="455.00" width="1.90" height="43.70" fill="#999999"/>
<rect x="280.00" y="454.00" width="78.75" height="2.00" fill="#999999"/>
<rect x="280.00" y="455.00" width="1.90" height="13.00" fill="#999999"/>
<rect x="306.25" y="412.00" width="1.85" height="43.00" fill="#999999"/>
<rect x="327.50" y="412.00" width="1.50" height="156.00" fill="#999999"/>
<rect x="180.00" y="498.00" width="24.70" height="2.00" fill="#999999"/>
<rect x="228.70" y="498.00" width="56.00" height="2.00" fill="#999999"/>
<rect x="308.70" y="498.00" width="18.80" height="2.00" fill="#999999"/>
<rect x="259.30" y="498.70" width="1.90" height="69.30" fill="#999999"/>
<rect x="394.00" y="454.00" width="109.75" height="2.00" fill="#999999"/>
<rect x="427.25" y="412.00" width="1.75" height="156.00" fill="#999999"/>
<path d="M329.6,456.6 H339.5 V548.6 H416.6 V456.6 H426.4 V567 H329.6 Z" fill="#CC9933" stroke="#720000" stroke-width="1.2"/>
<rect x="429.60" y="444.60" width="73.55" height="8.55" fill="#CC9933" stroke="#720000" stroke-width="1.2"/>
<rect x="402.90" y="424.00" width="9.20" height="9.75" fill="#000000"/>
<rect x="402.90" y="441.00" width="9.20" height="9.60" fill="#000000"/>
<rect x="412.10" y="420.00" width="14.80" height="33.75" fill="#FF0000"/>
<path d="M418,423 A5,5.4 0 0 1 418,433.75 Z" fill="#CCCCCC"/>
<path d="M418,440.6 A5,5.3 0 0 1 418,451.25 Z" fill="#CCCCCC"/>
<circle cx="427.90" cy="412.50" r="6.00" fill="#999999"/>
<g fill="#006600" stroke="none"><circle cx="207.6" cy="428.8" r="2.1"/><rect x="206.2" y="431.8" width="3.1" height="9.5"/><rect x="208" y="436" width="5.8" height="1.6"/><rect x="206.6" y="439.6" width="9.4" height="1.8"/></g>
<path d="M215.2,440.5 L218.6,446.6 L221.3,444.6" fill="none" stroke="#006600" stroke-width="1.7" stroke-linejoin="round" stroke-linecap="round"/>
<path d="M204.3,436.8 A6.4,6.4 0 1 0 214.9,446.2" fill="none" stroke="#006600" stroke-width="1.5"/>
<g fill="#006600"><circle cx="288.9" cy="431.3" r="2.2"/><path d="M281,449.6 V440 Q281,435.6 285.3,434.2 L287.5,433.6 Q289.8,433.4 290.7,435.4 L293.2,439.2 L292,440.2 L288.8,437.6 L284.3,439.4 V449.6 Z"/><path d="M290.6,438.8 H298 V441 L296.6,442.2 V449.6 H293 V442.2 L290.6,441 Z"/><path d="M293.2,438.2 Q294.5,433.4 296.2,436.2 Q297.8,434.6 298.8,435.2 Q296.6,436.4 296.4,438.4 Z"/></g>
<g fill="#006600"><circle cx="223.1" cy="525.9" r="2.2"/><path d="M220.3,528.9 H225.9 L229.3,540.6 H216.9 Z"/><rect x="220.2" y="540" width="2" height="8.8"/><rect x="224" y="540" width="2" height="8.8"/></g>
<g fill="#006600"><circle cx="294.4" cy="525.9" r="2.2"/><path d="M290.2,528.8 H298.6 Q300,528.8 300,530.2 V538.6 H298.4 V531 H297.6 V548.8 H294.8 V539.6 H294 V548.8 H291.2 V531 H290.4 V538.6 H288.8 V530.2 Q288.8,528.8 290.2,528.8 Z"/></g>
<path d="M175.6,300.5 Q171.5,298.6 169.2,301.2 Q167,304.4 167,308.4 Q167,312.6 169.2,315.6 Q171.5,318.4 175.6,316.5 L175.2,313.4 Q172.4,314.4 171.1,312.8 Q170.2,311 170.2,308.4 Q170.2,305.8 171.1,304 Q172.4,302.4 175.2,303.6 Z" fill="#006600"/>
<path d="M375.00,479.00 L377.88,484.44 L383.94,485.50 L379.66,489.91 L380.53,496.00 L375.00,493.30 L369.47,496.00 L370.34,489.91 L366.06,485.50 L372.12,484.44 Z" fill="url(#sg)" stroke="#0000FF" stroke-width="2.6" stroke-linejoin="round"/>
<text x="266.39" y="42.06" font-family="'Liberation Sans', sans-serif" font-size="11.25" font-weight="bold" text-anchor="start" fill="#fff" stroke="#fff" stroke-width="3.2" stroke-linejoin="round">拡大</text>
<text x="266.39" y="42.06" font-family="'Liberation Sans', sans-serif" font-size="11.25" font-weight="bold" text-anchor="start" fill="#119911">拡大</text>
<text x="268.38" y="53.92" font-family="'Liberation Sans', sans-serif" font-size="10.50" font-weight="bold" text-anchor="start" fill="#fff" stroke="#fff" stroke-width="3.2" stroke-linejoin="round">読書器</text>
<text x="268.38" y="53.92" font-family="'Liberation Sans', sans-serif" font-size="10.50" font-weight="bold" text-anchor="start" fill="#119911">読書器</text>
<text x="304.43" y="84.75" font-family="'Liberation Sans', sans-serif" font-size="10.71" font-weight="bold" text-anchor="start" fill="#fff" stroke="#fff" stroke-width="3.2" stroke-linejoin="round">ジュニア新書</text>
<text x="304.43" y="84.75" font-family="'Liberation Sans', sans-serif" font-size="10.71" font-weight="bold" text-anchor="start" fill="#119911">ジュニア新書</text>
<text x="376.82" y="83.84" font-family="'Liberation Sans', sans-serif" font-size="9.47" font-weight="bold" text-anchor="start" fill="#fff" stroke="#fff" stroke-width="3.2" stroke-linejoin="round">コミック</text>
<text x="376.82" y="83.84" font-family="'Liberation Sans', sans-serif" font-size="9.47" font-weight="bold" text-anchor="start" fill="#119911">コミック</text>
<text x="459.70" y="85.34" font-family="'Liberation Sans', sans-serif" font-size="11.96" font-weight="bold" text-anchor="start" fill="#fff" stroke="#fff" stroke-width="3.2" stroke-linejoin="round">大型活字本</text>
<text x="459.70" y="85.34" font-family="'Liberation Sans', sans-serif" font-size="11.96" font-weight="bold" text-anchor="start" fill="#119911">大型活字本</text>
<text x="565.71" y="86.00" font-family="'Liberation Sans', sans-serif" font-size="11.43" font-weight="bold" text-anchor="start" fill="#fff" stroke="#fff" stroke-width="3.2" stroke-linejoin="round">文庫本</text>
<text x="565.71" y="86.00" font-family="'Liberation Sans', sans-serif" font-size="11.43" font-weight="bold" text-anchor="start" fill="#119911">文庫本</text>
<text x="620.71" y="86.06" font-family="'Liberation Sans', sans-serif" font-size="11.60" font-weight="bold" text-anchor="start" fill="#fff" stroke="#fff" stroke-width="3.2" stroke-linejoin="round">文庫本</text>
<text x="620.71" y="86.06" font-family="'Liberation Sans', sans-serif" font-size="11.60" font-weight="bold" text-anchor="start" fill="#119911">文庫本</text>
<text x="716.71" y="86.00" font-family="'Liberation Sans', sans-serif" font-size="11.43" font-weight="bold" text-anchor="start" fill="#fff" stroke="#fff" stroke-width="3.2" stroke-linejoin="round">文庫本</text>
<text x="716.71" y="86.00" font-family="'Liberation Sans', sans-serif" font-size="11.43" font-weight="bold" text-anchor="start" fill="#119911">文庫本</text>
<text x="195.69" y="63.34" font-family="'Liberation Sans', sans-serif" font-size="14.53" font-weight="normal" text-anchor="start" fill="#fff" stroke="#fff" stroke-width="3.2" stroke-linejoin="round">14</text>
<text x="195.69" y="63.34" font-family="'Liberation Sans', sans-serif" font-size="14.53" font-weight="normal" text-anchor="start" fill="#119911" stroke="#119911" stroke-width="0.8" stroke-linejoin="round">14</text>
<text x="307.60" y="114.85" font-family="'Liberation Sans', sans-serif" font-size="16.00" font-weight="normal" text-anchor="start" fill="#fff" stroke="#fff" stroke-width="3.2" stroke-linejoin="round">6</text>
<text x="307.60" y="114.85" font-family="'Liberation Sans', sans-serif" font-size="16.00" font-weight="normal" text-anchor="start" fill="#A00A0A" stroke="#A00A0A" stroke-width="0.8" stroke-linejoin="round">6</text>
<text x="302.51" y="125.91" font-family="'Liberation Sans', sans-serif" font-size="11.60" font-weight="normal" text-anchor="start" fill="#fff" stroke="#fff" stroke-width="3.2" stroke-linejoin="round">913</text>
<text x="302.51" y="125.91" font-family="'Liberation Sans', sans-serif" font-size="11.60" font-weight="normal" text-anchor="start" fill="#A00A0A" stroke="#A00A0A" stroke-width="0.45" stroke-linejoin="round">913</text>
<text x="347.80" y="114.85" font-family="'Liberation Sans', sans-serif" font-size="16.00" font-weight="normal" text-anchor="start" fill="#fff" stroke="#fff" stroke-width="3.2" stroke-linejoin="round">7</text>
<text x="347.80" y="114.85" font-family="'Liberation Sans', sans-serif" font-size="16.00" font-weight="normal" text-anchor="start" fill="#A00A0A" stroke="#A00A0A" stroke-width="0.8" stroke-linejoin="round">7</text>
<text x="342.18" y="125.91" font-family="'Liberation Sans', sans-serif" font-size="11.60" font-weight="normal" text-anchor="start" fill="#fff" stroke="#fff" stroke-width="3.2" stroke-linejoin="round">913</text>
<text x="342.18" y="125.91" font-family="'Liberation Sans', sans-serif" font-size="11.60" font-weight="normal" text-anchor="start" fill="#A00A0A" stroke="#A00A0A" stroke-width="0.45" stroke-linejoin="round">913</text>
<text x="387.65" y="114.85" font-family="'Liberation Sans', sans-serif" font-size="16.00" font-weight="normal" text-anchor="start" fill="#fff" stroke="#fff" stroke-width="3.2" stroke-linejoin="round">8</text>
<text x="387.65" y="114.85" font-family="'Liberation Sans', sans-serif" font-size="16.00" font-weight="normal" text-anchor="start" fill="#A00A0A" stroke="#A00A0A" stroke-width="0.8" stroke-linejoin="round">8</text>
<text x="382.38" y="125.91" font-family="'Liberation Sans', sans-serif" font-size="11.60" font-weight="normal" text-anchor="start" fill="#fff" stroke="#fff" stroke-width="3.2" stroke-linejoin="round">913</text>
<text x="382.38" y="125.91" font-family="'Liberation Sans', sans-serif" font-size="11.60" font-weight="normal" text-anchor="start" fill="#A00A0A" stroke="#A00A0A" stroke-width="0.45" stroke-linejoin="round">913</text>
<text x="427.48" y="114.85" font-family="'Liberation Sans', sans-serif" font-size="16.00" font-weight="normal" text-anchor="start" fill="#fff" stroke="#fff" stroke-width="3.2" stroke-linejoin="round">9</text>
<text x="427.48" y="114.85" font-family="'Liberation Sans', sans-serif" font-size="16.00" font-weight="normal" text-anchor="start" fill="#A00A0A" stroke="#A00A0A" stroke-width="0.8" stroke-linejoin="round">9</text>
<text x="410.24" y="125.91" font-family="'Liberation Sans', sans-serif" font-size="11.60" font-weight="normal" text-anchor="start" fill="#fff" stroke="#fff" stroke-width="3.2" stroke-linejoin="round">913~919</text>
<text x="410.24" y="125.91" font-family="'Liberation Sans', sans-serif" font-size="11.60" font-weight="normal" text-anchor="start" fill="#A00A0A" stroke="#A00A0A" stroke-width="0.45" stroke-linejoin="round">913~919</text>
<text x="461.80" y="114.85" font-family="'Liberation Sans', sans-serif" font-size="16.00" font-weight="normal" text-anchor="start" fill="#fff" stroke="#fff" stroke-width="3.2" stroke-linejoin="round">10</text>
<text x="461.80" y="114.85" font-family="'Liberation Sans', sans-serif" font-size="16.00" font-weight="normal" text-anchor="start" fill="#A00A0A" stroke="#A00A0A" stroke-width="0.8" stroke-linejoin="round">10</text>
<text x="469.99" y="125.91" font-family="'Liberation Sans', sans-serif" font-size="11.60" font-weight="normal" text-anchor="start" fill="#fff" stroke="#fff" stroke-width="3.2" stroke-linejoin="round">920~999</text>
<text x="469.99" y="125.91" font-family="'Liberation Sans', sans-serif" font-size="11.60" font-weight="normal" text-anchor="start" fill="#A00A0A" stroke="#A00A0A" stroke-width="0.45" stroke-linejoin="round">920~999</text>
<text x="502.40" y="114.85" font-family="'Liberation Sans', sans-serif" font-size="16.00" font-weight="normal" text-anchor="start" fill="#fff" stroke="#fff" stroke-width="3.2" stroke-linejoin="round">11</text>
<text x="502.40" y="114.85" font-family="'Liberation Sans', sans-serif" font-size="16.00" font-weight="normal" text-anchor="start" fill="#A00A0A" stroke="#A00A0A" stroke-width="0.8" stroke-linejoin="round">11</text>
<text x="547.15" y="114.60" font-family="'Liberation Sans', sans-serif" font-size="16.00" font-weight="normal" text-anchor="start" fill="#fff" stroke="#fff" stroke-width="3.2" stroke-linejoin="round">1</text>
<text x="547.15" y="114.60" font-family="'Liberation Sans', sans-serif" font-size="16.00" font-weight="normal" text-anchor="start" fill="#119911" stroke="#119911" stroke-width="0.8" stroke-linejoin="round">1</text>
<text x="547.75" y="125.23" font-family="'Liberation Sans', sans-serif" font-size="10.67" font-weight="normal" text-anchor="start" fill="#fff" stroke="#fff" stroke-width="3.2" stroke-linejoin="round">000~</text>
<text x="547.75" y="125.23" font-family="'Liberation Sans', sans-serif" font-size="10.67" font-weight="normal" text-anchor="start" fill="#119911" stroke="#119911" stroke-width="0.45" stroke-linejoin="round">000~</text>
<text x="587.00" y="114.60" font-family="'Liberation Sans', sans-serif" font-size="16.00" font-weight="normal" text-anchor="start" fill="#fff" stroke="#fff" stroke-width="3.2" stroke-linejoin="round">2</text>
<text x="587.00" y="114.60" font-family="'Liberation Sans', sans-serif" font-size="16.00" font-weight="normal" text-anchor="start" fill="#119911" stroke="#119911" stroke-width="0.8" stroke-linejoin="round">2</text>
<text x="587.65" y="125.23" font-family="'Liberation Sans', sans-serif" font-size="10.67" font-weight="normal" text-anchor="start" fill="#fff" stroke="#fff" stroke-width="3.2" stroke-linejoin="round">220~</text>
<text x="587.65" y="125.23" font-family="'Liberation Sans', sans-serif" font-size="10.67" font-weight="normal" text-anchor="start" fill="#119911" stroke="#119911" stroke-width="0.45" stroke-linejoin="round">220~</text>
<text x="626.10" y="114.60" font-family="'Liberation Sans', sans-serif" font-size="16.00" font-weight="normal" text-anchor="start" fill="#fff" stroke="#fff" stroke-width="3.2" stroke-linejoin="round">3</text>
<text x="626.10" y="114.60" font-family="'Liberation Sans', sans-serif" font-size="16.00" font-weight="normal" text-anchor="start" fill="#119911" stroke="#119911" stroke-width="0.8" stroke-linejoin="round">3</text>
<text x="627.50" y="125.23" font-family="'Liberation Sans', sans-serif" font-size="10.67" font-weight="normal" text-anchor="start" fill="#fff" stroke="#fff" stroke-width="3.2" stroke-linejoin="round">300~</text>
<text x="627.50" y="125.23" font-family="'Liberation Sans', sans-serif" font-size="10.67" font-weight="normal" text-anchor="start" fill="#119911" stroke="#119911" stroke-width="0.45" stroke-linejoin="round">300~</text>
<text x="666.60" y="114.60" font-family="'Liberation Sans', sans-serif" font-size="16.00" font-weight="normal" text-anchor="start" fill="#fff" stroke="#fff" stroke-width="3.2" stroke-linejoin="round">4</text>
<text x="666.60" y="114.60" font-family="'Liberation Sans', sans-serif" font-size="16.00" font-weight="normal" text-anchor="start" fill="#119911" stroke="#119911" stroke-width="0.8" stroke-linejoin="round">4</text>
<text x="667.25" y="125.23" font-family="'Liberation Sans', sans-serif" font-size="10.67" font-weight="normal" text-anchor="start" fill="#fff" stroke="#fff" stroke-width="3.2" stroke-linejoin="round">360~</text>
<text x="667.25" y="125.23" font-family="'Liberation Sans', sans-serif" font-size="10.67" font-weight="normal" text-anchor="start" fill="#119911" stroke="#119911" stroke-width="0.45" stroke-linejoin="round">360~</text>
<text x="706.40" y="114.60" font-family="'Liberation Sans', sans-serif" font-size="16.00" font-weight="normal" text-anchor="start" fill="#fff" stroke="#fff" stroke-width="3.2" stroke-linejoin="round">5</text>
<text x="706.40" y="114.60" font-family="'Liberation Sans', sans-serif" font-size="16.00" font-weight="normal" text-anchor="start" fill="#119911" stroke="#119911" stroke-width="0.8" stroke-linejoin="round">5</text>
<text x="707.38" y="125.23" font-family="'Liberation Sans', sans-serif" font-size="10.67" font-weight="normal" text-anchor="start" fill="#fff" stroke="#fff" stroke-width="3.2" stroke-linejoin="round">400~</text>
<text x="707.38" y="125.23" font-family="'Liberation Sans', sans-serif" font-size="10.67" font-weight="normal" text-anchor="start" fill="#119911" stroke="#119911" stroke-width="0.45" stroke-linejoin="round">400~</text>
<text x="746.60" y="114.60" font-family="'Liberation Sans', sans-serif" font-size="16.00" font-weight="normal" text-anchor="start" fill="#fff" stroke="#fff" stroke-width="3.2" stroke-linejoin="round">6</text>
<text x="746.60" y="114.60" font-family="'Liberation Sans', sans-serif" font-size="16.00" font-weight="normal" text-anchor="start" fill="#119911" stroke="#119911" stroke-width="0.8" stroke-linejoin="round">6</text>
<text x="747.25" y="125.23" font-family="'Liberation Sans', sans-serif" font-size="10.67" font-weight="normal" text-anchor="start" fill="#fff" stroke="#fff" stroke-width="3.2" stroke-linejoin="round">500~</text>
<text x="747.25" y="125.23" font-family="'Liberation Sans', sans-serif" font-size="10.67" font-weight="normal" text-anchor="start" fill="#119911" stroke="#119911" stroke-width="0.45" stroke-linejoin="round">500~</text>
<text x="770.71" y="192.04" font-family="'Liberation Sans', sans-serif" font-size="18.33" font-weight="normal" text-anchor="start" fill="#fff" stroke="#fff" stroke-width="3.2" stroke-linejoin="round">13</text>
<text x="770.71" y="192.04" font-family="'Liberation Sans', sans-serif" font-size="18.33" font-weight="normal" text-anchor="start" fill="#119911" stroke="#119911" stroke-width="0.8" stroke-linejoin="round">13</text>
<text x="547.62" y="329.53" font-family="'Liberation Sans', sans-serif" font-size="18.67" font-weight="normal" text-anchor="start" fill="#fff" stroke="#fff" stroke-width="3.2" stroke-linejoin="round">7</text>
<text x="547.62" y="329.53" font-family="'Liberation Sans', sans-serif" font-size="18.67" font-weight="normal" text-anchor="start" fill="#119911" stroke="#119911" stroke-width="0.8" stroke-linejoin="round">7</text>
<text x="547.11" y="339.22" font-family="'Liberation Sans', sans-serif" font-size="11.33" font-weight="normal" text-anchor="start" fill="#fff" stroke="#fff" stroke-width="3.2" stroke-linejoin="round">R</text>
<text x="547.11" y="339.22" font-family="'Liberation Sans', sans-serif" font-size="11.33" font-weight="normal" text-anchor="start" fill="#119911" stroke="#119911" stroke-width="0.45" stroke-linejoin="round">R</text>
<text x="585.63" y="329.53" font-family="'Liberation Sans', sans-serif" font-size="18.67" font-weight="normal" text-anchor="start" fill="#fff" stroke="#fff" stroke-width="3.2" stroke-linejoin="round">8</text>
<text x="585.63" y="329.53" font-family="'Liberation Sans', sans-serif" font-size="18.67" font-weight="normal" text-anchor="start" fill="#119911" stroke="#119911" stroke-width="0.8" stroke-linejoin="round">8</text>
<text x="586.00" y="339.70" font-family="'Liberation Sans', sans-serif" font-size="12.00" font-weight="normal" text-anchor="start" fill="#fff" stroke="#fff" stroke-width="3.2" stroke-linejoin="round">700~</text>
<text x="586.00" y="339.70" font-family="'Liberation Sans', sans-serif" font-size="12.00" font-weight="normal" text-anchor="start" fill="#119911" stroke="#119911" stroke-width="0.45" stroke-linejoin="round">700~</text>
<text x="625.87" y="329.53" font-family="'Liberation Sans', sans-serif" font-size="18.67" font-weight="normal" text-anchor="start" fill="#fff" stroke="#fff" stroke-width="3.2" stroke-linejoin="round">9</text>
<text x="625.87" y="329.53" font-family="'Liberation Sans', sans-serif" font-size="18.67" font-weight="normal" text-anchor="start" fill="#119911" stroke="#119911" stroke-width="0.8" stroke-linejoin="round">9</text>
<text x="626.00" y="339.70" font-family="'Liberation Sans', sans-serif" font-size="12.00" font-weight="normal" text-anchor="start" fill="#fff" stroke="#fff" stroke-width="3.2" stroke-linejoin="round">800~</text>
<text x="626.00" y="339.70" font-family="'Liberation Sans', sans-serif" font-size="12.00" font-weight="normal" text-anchor="start" fill="#119911" stroke="#119911" stroke-width="0.45" stroke-linejoin="round">800~</text>
<text x="669.52" y="329.53" font-family="'Liberation Sans', sans-serif" font-size="18.67" font-weight="normal" text-anchor="start" fill="#fff" stroke="#fff" stroke-width="3.2" stroke-linejoin="round">10</text>
<text x="669.52" y="329.53" font-family="'Liberation Sans', sans-serif" font-size="18.67" font-weight="normal" text-anchor="start" fill="#119911" stroke="#119911" stroke-width="0.8" stroke-linejoin="round">10</text>
<text x="667.95" y="339.70" font-family="'Liberation Sans', sans-serif" font-size="12.00" font-weight="normal" text-anchor="start" fill="#fff" stroke="#fff" stroke-width="3.2" stroke-linejoin="round">F</text>
<text x="667.95" y="339.70" font-family="'Liberation Sans', sans-serif" font-size="12.00" font-weight="normal" text-anchor="start" fill="#119911" stroke="#119911" stroke-width="0.45" stroke-linejoin="round">F</text>
<text x="709.47" y="329.53" font-family="'Liberation Sans', sans-serif" font-size="18.67" font-weight="normal" text-anchor="start" fill="#fff" stroke="#fff" stroke-width="3.2" stroke-linejoin="round">11</text>
<text x="709.47" y="329.53" font-family="'Liberation Sans', sans-serif" font-size="18.67" font-weight="normal" text-anchor="start" fill="#119911" stroke="#119911" stroke-width="0.8" stroke-linejoin="round">11</text>
<text x="708.20" y="339.70" font-family="'Liberation Sans', sans-serif" font-size="12.00" font-weight="normal" text-anchor="start" fill="#fff" stroke="#fff" stroke-width="3.2" stroke-linejoin="round">F~914</text>
<text x="708.20" y="339.70" font-family="'Liberation Sans', sans-serif" font-size="12.00" font-weight="normal" text-anchor="start" fill="#119911" stroke="#119911" stroke-width="0.45" stroke-linejoin="round">F~914</text>
<text x="749.27" y="329.53" font-family="'Liberation Sans', sans-serif" font-size="18.67" font-weight="normal" text-anchor="start" fill="#fff" stroke="#fff" stroke-width="3.2" stroke-linejoin="round">12</text>
<text x="749.27" y="329.53" font-family="'Liberation Sans', sans-serif" font-size="18.67" font-weight="normal" text-anchor="start" fill="#119911" stroke="#119911" stroke-width="0.8" stroke-linejoin="round">12</text>
<text x="748.45" y="339.70" font-family="'Liberation Sans', sans-serif" font-size="12.00" font-weight="normal" text-anchor="start" fill="#fff" stroke="#fff" stroke-width="3.2" stroke-linejoin="round">914~999</text>
<text x="748.45" y="339.70" font-family="'Liberation Sans', sans-serif" font-size="12.00" font-weight="normal" text-anchor="start" fill="#119911" stroke="#119911" stroke-width="0.45" stroke-linejoin="round">914~999</text>
<text x="301.07" y="304.18" font-family="'Liberation Sans', sans-serif" font-size="10.50" font-weight="bold" text-anchor="start" fill="#fff" stroke="#fff" stroke-width="3.2" stroke-linejoin="round">雑誌</text>
<text x="301.07" y="304.18" font-family="'Liberation Sans', sans-serif" font-size="10.50" font-weight="bold" text-anchor="start" fill="#119911">雑誌</text>
<text x="422.84" y="303.74" font-family="'Liberation Sans', sans-serif" font-size="9.07" font-weight="bold" text-anchor="start" fill="#fff" stroke="#fff" stroke-width="3.2" stroke-linejoin="round">ビデオ・</text>
<text x="422.84" y="303.74" font-family="'Liberation Sans', sans-serif" font-size="9.07" font-weight="bold" text-anchor="start" fill="#119911">ビデオ・</text>
<text x="422.67" y="316.52" font-family="'Liberation Sans', sans-serif" font-size="9.76" font-weight="bold" text-anchor="start" fill="#fff" stroke="#fff" stroke-width="3.2" stroke-linejoin="round">DVD・LD・雑誌</text>
<text x="422.67" y="316.52" font-family="'Liberation Sans', sans-serif" font-size="9.76" font-weight="bold" text-anchor="start" fill="#119911">DVD・LD・雑誌</text>
<text x="559.54" y="399.98" font-family="'Liberation Sans', sans-serif" font-size="9.12" font-weight="bold" text-anchor="start" fill="#fff" stroke="#fff" stroke-width="3.2" stroke-linejoin="round">インターネット</text>
<text x="559.54" y="399.98" font-family="'Liberation Sans', sans-serif" font-size="9.12" font-weight="bold" text-anchor="start" fill="#119911">インターネット</text>
<text x="644.33" y="400.13" font-family="'Liberation Sans', sans-serif" font-size="8.95" font-weight="bold" text-anchor="start" fill="#fff" stroke="#fff" stroke-width="3.2" stroke-linejoin="round">カセットブック</text>
<text x="644.33" y="400.13" font-family="'Liberation Sans', sans-serif" font-size="8.95" font-weight="bold" text-anchor="start" fill="#119911">カセットブック</text>
<text x="645.35" y="361.27" font-family="'Liberation Sans', sans-serif" font-size="9.00" font-weight="normal" text-anchor="start" fill="#fff" stroke="#fff" stroke-width="3.2" stroke-linejoin="round">CD</text>
<text x="645.35" y="361.27" font-family="'Liberation Sans', sans-serif" font-size="9.00" font-weight="normal" text-anchor="start" fill="#119911" stroke="#119911" stroke-width="0.6" stroke-linejoin="round">CD</text>
<text x="205.81" y="398.50" font-family="'Liberation Sans', sans-serif" font-size="8.85" font-weight="bold" text-anchor="start" fill="#fff" stroke="#fff" stroke-width="3.2" stroke-linejoin="round">あたらしい本</text>
<text x="205.81" y="398.50" font-family="'Liberation Sans', sans-serif" font-size="8.85" font-weight="bold" text-anchor="start" fill="#119911">あたらしい本</text>
<text x="298.75" y="398.48" font-family="'Liberation Sans', sans-serif" font-size="9.94" font-weight="bold" text-anchor="start" fill="#fff" stroke="#fff" stroke-width="3.2" stroke-linejoin="round">話題の本</text>
<text x="298.75" y="398.48" font-family="'Liberation Sans', sans-serif" font-size="9.94" font-weight="bold" text-anchor="start" fill="#119911">話題の本</text>
<text x="355.27" y="510.30" font-family="'Liberation Sans', sans-serif" font-size="10.93" font-weight="bold" text-anchor="start" fill="#fff" stroke="#fff" stroke-width="3.2" stroke-linejoin="round">地域資料</text>
<text x="355.27" y="510.30" font-family="'Liberation Sans', sans-serif" font-size="10.93" font-weight="bold" text-anchor="start" fill="#119911">地域資料</text>
<text x="357.85" y="521.77" font-family="'Liberation Sans', sans-serif" font-size="9.22" font-weight="bold" text-anchor="start" fill="#fff" stroke="#fff" stroke-width="3.2" stroke-linejoin="round">コーナー</text>
<text x="357.85" y="521.77" font-family="'Liberation Sans', sans-serif" font-size="9.22" font-weight="bold" text-anchor="start" fill="#119911">コーナー</text>
<text x="713.20" y="496.61" font-family="'Liberation Sans', sans-serif" font-size="11.02" font-weight="bold" text-anchor="start" fill="#fff" stroke="#fff" stroke-width="3.2" stroke-linejoin="round">閉架書庫</text>
<text x="713.20" y="496.61" font-family="'Liberation Sans', sans-serif" font-size="11.02" font-weight="bold" text-anchor="start" fill="#119911">閉架書庫</text>
<text x="199.76" y="107.00" font-family="'Liberation Sans', sans-serif" font-size="16.13" font-weight="normal" text-anchor="start" fill="#fff" stroke="#fff" stroke-width="3.2" stroke-linejoin="round">5</text>
<text x="199.76" y="107.00" font-family="'Liberation Sans', sans-serif" font-size="16.13" font-weight="normal" text-anchor="start" fill="#A00A0A" stroke="#A00A0A" stroke-width="0.8" stroke-linejoin="round">5</text>
<text x="199.96" y="147.00" font-family="'Liberation Sans', sans-serif" font-size="16.13" font-weight="normal" text-anchor="start" fill="#fff" stroke="#fff" stroke-width="3.2" stroke-linejoin="round">4</text>
<text x="199.96" y="147.00" font-family="'Liberation Sans', sans-serif" font-size="16.13" font-weight="normal" text-anchor="start" fill="#A00A0A" stroke="#A00A0A" stroke-width="0.8" stroke-linejoin="round">4</text>
<text x="199.96" y="187.00" font-family="'Liberation Sans', sans-serif" font-size="16.13" font-weight="normal" text-anchor="start" fill="#fff" stroke="#fff" stroke-width="3.2" stroke-linejoin="round">3</text>
<text x="199.96" y="187.00" font-family="'Liberation Sans', sans-serif" font-size="16.13" font-weight="normal" text-anchor="start" fill="#A00A0A" stroke="#A00A0A" stroke-width="0.8" stroke-linejoin="round">3</text>
<text x="199.96" y="227.00" font-family="'Liberation Sans', sans-serif" font-size="16.13" font-weight="normal" text-anchor="start" fill="#fff" stroke="#fff" stroke-width="3.2" stroke-linejoin="round">2</text>
<text x="199.96" y="227.00" font-family="'Liberation Sans', sans-serif" font-size="16.13" font-weight="normal" text-anchor="start" fill="#A00A0A" stroke="#A00A0A" stroke-width="0.8" stroke-linejoin="round">2</text>
<text x="199.94" y="267.00" font-family="'Liberation Sans', sans-serif" font-size="15.87" font-weight="normal" text-anchor="start" fill="#fff" stroke="#fff" stroke-width="3.2" stroke-linejoin="round">1</text>
<text x="199.94" y="267.00" font-family="'Liberation Sans', sans-serif" font-size="15.87" font-weight="normal" text-anchor="start" fill="#A00A0A" stroke="#A00A0A" stroke-width="0.8" stroke-linejoin="round">1</text>
<text x="30.32" y="163.87" font-family="'Liberation Sans', sans-serif" font-size="12.84" font-weight="bold" text-anchor="start" fill="#fff" stroke="#fff" stroke-width="3.2" stroke-linejoin="round">絵本</text>
<text x="30.32" y="163.87" font-family="'Liberation Sans', sans-serif" font-size="12.84" font-weight="bold" text-anchor="start" fill="#A00A0A">絵本</text>
<text x="112.00" y="141.10" font-family="'Liberation Sans', sans-serif" font-size="8.49" font-weight="bold" text-anchor="start" fill="#fff" stroke="#fff" stroke-width="3.2" stroke-linejoin="round">子どものとも</text>
<text x="112.00" y="141.10" font-family="'Liberation Sans', sans-serif" font-size="8.49" font-weight="bold" text-anchor="start" fill="#A00A0A">子どものとも</text>
<text x="170.75" y="93.05" font-family="'Liberation Sans', sans-serif" font-size="7.65" font-weight="bold" text-anchor="start" fill="#fff" stroke="#fff" stroke-width="3.2" stroke-linejoin="round">ベビー</text>
<text x="170.75" y="93.05" font-family="'Liberation Sans', sans-serif" font-size="7.65" font-weight="bold" text-anchor="start" fill="#A00A0A">ベビー</text>
<text x="171.50" y="102.71" font-family="'Liberation Sans', sans-serif" font-size="6.95" font-weight="bold" text-anchor="start" fill="#fff" stroke="#fff" stroke-width="3.2" stroke-linejoin="round">ベッド</text>
<text x="171.50" y="102.71" font-family="'Liberation Sans', sans-serif" font-size="6.95" font-weight="bold" text-anchor="start" fill="#A00A0A">ベッド</text>
<text x="58.50" y="209.30" font-family="'Liberation Sans', sans-serif" font-size="8.89" font-weight="bold" text-anchor="start" fill="#fff" stroke="#fff" stroke-width="3.2" stroke-linejoin="round">赤ちゃんの本</text>
<text x="58.50" y="209.30" font-family="'Liberation Sans', sans-serif" font-size="8.89" font-weight="bold" text-anchor="start" fill="#A00A0A">赤ちゃんの本</text>
<text x="26.00" y="262.52" font-family="'Liberation Sans', sans-serif" font-size="12.55" font-weight="bold" text-anchor="start" fill="#fff" stroke="#fff" stroke-width="3.2" stroke-linejoin="round">幼児コーナー</text>
<text x="26.00" y="262.52" font-family="'Liberation Sans', sans-serif" font-size="12.55" font-weight="bold" text-anchor="start" fill="#A00A0A">幼児コーナー</text>
<text x="121.48" y="246.60" font-family="'Liberation Sans', sans-serif" font-size="13.14" font-weight="bold" text-anchor="start" fill="#fff" stroke="#fff" stroke-width="3.2" stroke-linejoin="round">絵本</text>
<text x="121.48" y="246.60" font-family="'Liberation Sans', sans-serif" font-size="13.14" font-weight="bold" text-anchor="start" fill="#A00A0A">絵本</text>
<text x="55.94" y="297.11" font-family="'Liberation Sans', sans-serif" font-size="13.53" font-weight="bold" text-anchor="start" fill="#fff" stroke="#fff" stroke-width="3.2" stroke-linejoin="round">絵本</text>
<text x="55.94" y="297.11" font-family="'Liberation Sans', sans-serif" font-size="13.53" font-weight="bold" text-anchor="start" fill="#A00A0A">絵本</text>
<text x="133.72" y="288.00" font-family="'Liberation Sans', sans-serif" font-size="11.03" font-weight="bold" text-anchor="start" fill="#fff" stroke="#fff" stroke-width="3.2" stroke-linejoin="round">大型</text>
<text x="133.72" y="288.00" font-family="'Liberation Sans', sans-serif" font-size="11.03" font-weight="bold" text-anchor="start" fill="#A00A0A">大型</text>
<text x="134.27" y="299.72" font-family="'Liberation Sans', sans-serif" font-size="10.62" font-weight="bold" text-anchor="start" fill="#fff" stroke="#fff" stroke-width="3.2" stroke-linejoin="round">絵本</text>
<text x="134.27" y="299.72" font-family="'Liberation Sans', sans-serif" font-size="10.62" font-weight="bold" text-anchor="start" fill="#A00A0A">絵本</text>
<text x="158.00" y="284.57" font-family="'Liberation Sans', sans-serif" font-size="10.59" font-weight="bold" text-anchor="start" fill="#fff" stroke="#fff" stroke-width="3.2" stroke-linejoin="round">紙芝居</text>
<text x="158.00" y="284.57" font-family="'Liberation Sans', sans-serif" font-size="10.59" font-weight="bold" text-anchor="start" fill="#A00A0A">紙芝居</text>
<text x="352.29" y="441.69" font-family="'Liberation Sans', sans-serif" font-size="11.69" font-weight="bold" text-anchor="start" fill="#fff" stroke="#fff" stroke-width="3.2" stroke-linejoin="round">現在位置</text>
<text x="352.29" y="441.69" font-family="'Liberation Sans', sans-serif" font-size="11.69" font-weight="bold" text-anchor="start" fill="#FF0000">現在位置</text>
<text x="89.61" y="363.83" font-family="'Liberation Sans', sans-serif" font-size="17.27" font-weight="bold" text-anchor="start" fill="#0066FF" stroke="#0066FF" stroke-width="1.3" stroke-linejoin="round">入口</text>
<g transform="translate(250.96,84.49) rotate(29.4)">
<text x="-17.2" y="-9.6" font-family="'Liberation Sans', sans-serif" font-size="10.8" font-weight="normal" fill="#fff" stroke="#fff" stroke-width="3" stroke-linejoin="round">590~599</text>
<text x="-17.2" y="-9.6" font-family="'Liberation Sans', sans-serif" font-size="10.8" font-weight="normal" fill="#119911" stroke="#119911" stroke-width="0.4">590~599</text>
</g>
<g transform="translate(250.96,124.49) rotate(29.4)">
<text x="-17.2" y="-9.6" font-family="'Liberation Sans', sans-serif" font-size="10.8" font-weight="normal" fill="#fff" stroke="#fff" stroke-width="3" stroke-linejoin="round">750~</text>
<text x="-17.2" y="-9.6" font-family="'Liberation Sans', sans-serif" font-size="10.8" font-weight="normal" fill="#A00A0A" stroke="#A00A0A" stroke-width="0.4">750~</text>
</g>
<g transform="translate(250.96,164.49) rotate(29.4)">
<text x="-17.2" y="-9.6" font-family="'Liberation Sans', sans-serif" font-size="10.8" font-weight="normal" fill="#fff" stroke="#fff" stroke-width="3" stroke-linejoin="round">490~</text>
<text x="-17.2" y="-9.6" font-family="'Liberation Sans', sans-serif" font-size="10.8" font-weight="normal" fill="#A00A0A" stroke="#A00A0A" stroke-width="0.4">490~</text>
</g>
<g transform="translate(250.96,204.49) rotate(29.4)">
<text x="-17.2" y="-9.6" font-family="'Liberation Sans', sans-serif" font-size="10.8" font-weight="normal" fill="#fff" stroke="#fff" stroke-width="3" stroke-linejoin="round">400~</text>
<text x="-17.2" y="-9.6" font-family="'Liberation Sans', sans-serif" font-size="10.8" font-weight="normal" fill="#A00A0A" stroke="#A00A0A" stroke-width="0.4">400~</text>
</g>
<g transform="translate(250.96,244.49) rotate(29.4)">
<text x="-17.2" y="-9.6" font-family="'Liberation Sans', sans-serif" font-size="10.8" font-weight="normal" fill="#fff" stroke="#fff" stroke-width="3" stroke-linejoin="round">280~</text>
<text x="-17.2" y="-9.6" font-family="'Liberation Sans', sans-serif" font-size="10.8" font-weight="normal" fill="#A00A0A" stroke="#A00A0A" stroke-width="0.4">280~</text>
</g>
<g transform="translate(250.96,284.49) rotate(29.4)">
<text x="-17.2" y="-9.6" font-family="'Liberation Sans', sans-serif" font-size="10.8" font-weight="normal" fill="#fff" stroke="#fff" stroke-width="3" stroke-linejoin="round">000~</text>
<text x="-17.2" y="-9.6" font-family="'Liberation Sans', sans-serif" font-size="10.8" font-weight="normal" fill="#A00A0A" stroke="#A00A0A" stroke-width="0.4">000~</text>
</g>
<g transform="translate(251.15,314.2) rotate(28.9)">
<text x="0" y="17.6" font-family="'Liberation Sans', sans-serif" font-size="10" font-weight="bold" fill="#fff" text-anchor="middle" stroke="#fff" stroke-width="3" stroke-linejoin="round">おすすめ本</text>
<text x="0" y="17.6" font-family="'Liberation Sans', sans-serif" font-size="10" font-weight="bold" fill="#119911" text-anchor="middle">おすすめ本</text>
</g>
</svg>
</body></html>
